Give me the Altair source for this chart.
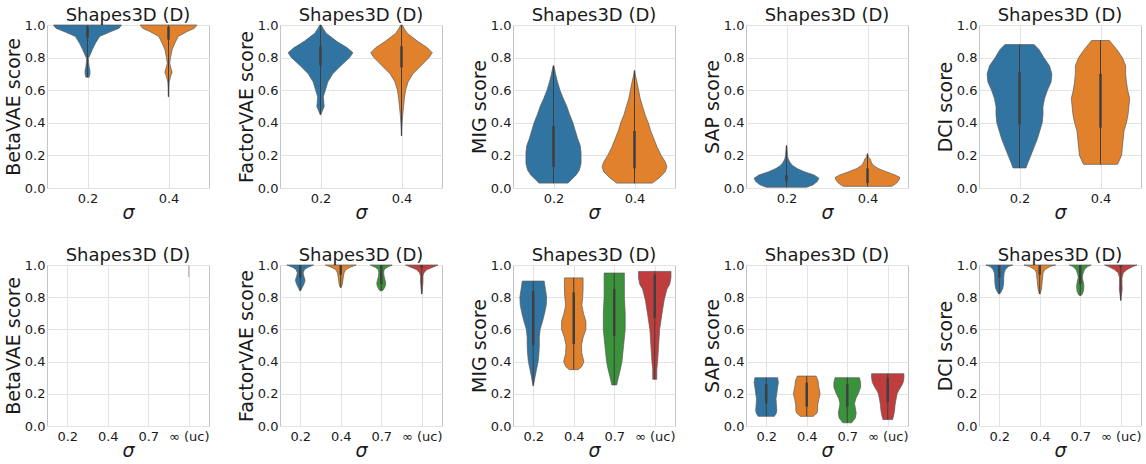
import altair as alt
import pandas as pd

METRICS = ["BetaVAE", "FactorVAE", "MIG", "SAP", "DCI"]
SIGMA_TOP = ["0.2", "0.4"]
SIGMA_BOTTOM = ["0.2", "0.4", "0.7", "∞ (uc)"]
PANEL_TITLE = "Shapes3D (D)"
COLORS = ["#3274a1", "#e1812c", "#3a923a", "#c03d3e"]
Y_TICKS = [0.0, 0.2, 0.4, 0.6, 0.8, 1.0]

# violin outlines: (score, half-width in category units), one list per sigma
BETAVAE_TOP = [
    [(0.68, 0.02), (0.70, 0.03), (0.72, 0.03), (0.745, 0.02), (0.765, 0.015), (0.795, 0.01),
     (0.815, 0.03), (0.85, 0.06), (0.89, 0.10), (0.93, 0.15), (0.96, 0.29), (0.98, 0.39), (1.0, 0.42)],
    [(0.56, 0.003), (0.60, 0.004), (0.65, 0.008), (0.69, 0.03), (0.71, 0.045), (0.735, 0.03),
     (0.765, 0.015), (0.80, 0.025), (0.85, 0.045), (0.89, 0.08), (0.93, 0.12), (0.96, 0.23),
     (0.98, 0.32), (1.0, 0.35)],
]
FACTORVAE_TOP = [
    [(0.45, 0.005), (0.47, 0.02), (0.50, 0.045), (0.53, 0.04), (0.56, 0.035), (0.60, 0.06),
     (0.65, 0.09), (0.70, 0.15), (0.75, 0.25), (0.80, 0.36), (0.83, 0.40), (0.86, 0.33),
     (0.90, 0.20), (0.95, 0.07), (0.98, 0.03), (1.0, 0.01)],
    [(0.32, 0.002), (0.36, 0.004), (0.40, 0.008), (0.45, 0.015), (0.50, 0.025), (0.55, 0.035),
     (0.60, 0.05), (0.65, 0.08), (0.70, 0.14), (0.75, 0.24), (0.80, 0.34), (0.83, 0.38),
     (0.86, 0.32), (0.90, 0.20), (0.95, 0.07), (0.98, 0.03), (1.0, 0.01)],
]
MIG_TOP = [
    [(0.03, 0.18), (0.05, 0.22), (0.08, 0.28), (0.11, 0.32), (0.15, 0.34), (0.22, 0.34),
     (0.26, 0.33), (0.30, 0.30), (0.35, 0.27), (0.40, 0.24), (0.45, 0.20), (0.50, 0.165),
     (0.55, 0.12), (0.60, 0.08), (0.65, 0.05), (0.70, 0.025), (0.75, 0.005)],
    [(0.03, 0.22), (0.06, 0.30), (0.10, 0.38), (0.13, 0.40), (0.16, 0.38), (0.20, 0.33),
     (0.25, 0.28), (0.30, 0.24), (0.35, 0.20), (0.40, 0.17), (0.45, 0.13), (0.50, 0.10),
     (0.55, 0.07), (0.60, 0.05), (0.65, 0.03), (0.69, 0.012), (0.72, 0.003)],
]
SAP_TOP = [
    [(0.005, 0.25), (0.02, 0.33), (0.04, 0.38), (0.06, 0.40), (0.08, 0.34), (0.10, 0.22),
     (0.12, 0.13), (0.14, 0.07), (0.16, 0.04), (0.18, 0.02), (0.20, 0.012), (0.23, 0.008),
     (0.26, 0.003)],
    [(0.01, 0.30), (0.03, 0.36), (0.05, 0.39), (0.065, 0.40), (0.08, 0.34), (0.10, 0.23),
     (0.12, 0.13), (0.14, 0.07), (0.16, 0.045), (0.17, 0.04), (0.18, 0.03), (0.19, 0.012),
     (0.21, 0.003)],
]
DCI_TOP = [
    [(0.123, 0.08), (0.15, 0.10), (0.20, 0.14), (0.25, 0.18), (0.30, 0.22), (0.35, 0.25),
     (0.40, 0.28), (0.45, 0.29), (0.50, 0.29), (0.55, 0.31), (0.60, 0.345), (0.65, 0.39),
     (0.70, 0.40), (0.75, 0.37), (0.80, 0.30), (0.85, 0.24), (0.88, 0.18)],
    [(0.145, 0.21), (0.20, 0.26), (0.25, 0.27), (0.30, 0.28), (0.35, 0.29), (0.40, 0.32),
     (0.45, 0.34), (0.50, 0.35), (0.55, 0.36), (0.60, 0.335), (0.65, 0.32), (0.70, 0.31),
     (0.75, 0.31), (0.80, 0.27), (0.85, 0.20), (0.905, 0.11)],
]
BETAVAE_BOTTOM = []
FACTORVAE_BOTTOM = [
    [(0.84, 0.01), (0.86, 0.05), (0.88, 0.09), (0.905, 0.12), (0.93, 0.09), (0.95, 0.07),
     (0.97, 0.10), (0.985, 0.18), (1.0, 0.33)],
    [(0.86, 0.01), (0.88, 0.04), (0.90, 0.05), (0.92, 0.06), (0.95, 0.08), (0.97, 0.12),
     (0.985, 0.22), (1.0, 0.38)],
    [(0.84, 0.03), (0.85, 0.06), (0.87, 0.10), (0.885, 0.11), (0.90, 0.10), (0.93, 0.07),
     (0.95, 0.06), (0.97, 0.07), (0.985, 0.14), (1.0, 0.27)],
    [(0.82, 0.005), (0.85, 0.015), (0.88, 0.025), (0.90, 0.03), (0.93, 0.03), (0.95, 0.05),
     (0.97, 0.12), (0.985, 0.26), (1.0, 0.40)],
]
MIG_BOTTOM = [
    [(0.25, 0.005), (0.30, 0.04), (0.35, 0.08), (0.40, 0.12), (0.45, 0.14), (0.50, 0.15),
     (0.55, 0.15), (0.60, 0.17), (0.65, 0.23), (0.70, 0.28), (0.75, 0.32), (0.80, 0.33),
     (0.85, 0.30), (0.90, 0.27)],
    [(0.35, 0.11), (0.37, 0.20), (0.40, 0.25), (0.45, 0.20), (0.50, 0.19), (0.55, 0.23),
     (0.60, 0.30), (0.65, 0.30), (0.70, 0.24), (0.75, 0.20), (0.80, 0.22), (0.85, 0.23),
     (0.92, 0.23)],
    [(0.255, 0.06), (0.30, 0.10), (0.35, 0.15), (0.40, 0.19), (0.45, 0.21), (0.50, 0.23),
     (0.60, 0.27), (0.70, 0.27), (0.80, 0.25), (0.90, 0.25), (0.95, 0.25)],
    [(0.29, 0.05), (0.35, 0.05), (0.40, 0.07), (0.50, 0.095), (0.60, 0.12), (0.70, 0.18),
     (0.78, 0.23), (0.85, 0.30), (0.88, 0.37), (0.92, 0.40), (0.96, 0.40)],
]
SAP_BOTTOM = [
    [(0.06, 0.20), (0.08, 0.25), (0.10, 0.26), (0.13, 0.25), (0.17, 0.24), (0.20, 0.26),
     (0.24, 0.28), (0.27, 0.30), (0.30, 0.28)],
    [(0.06, 0.16), (0.08, 0.25), (0.10, 0.27), (0.13, 0.27), (0.17, 0.30), (0.20, 0.33),
     (0.25, 0.29), (0.28, 0.28), (0.31, 0.23)],
    [(0.02, 0.11), (0.05, 0.20), (0.08, 0.22), (0.11, 0.20), (0.14, 0.18), (0.17, 0.21),
     (0.20, 0.27), (0.24, 0.33), (0.27, 0.33), (0.30, 0.30)],
    [(0.04, 0.12), (0.07, 0.15), (0.10, 0.17), (0.13, 0.18), (0.16, 0.20), (0.20, 0.23),
     (0.22, 0.27), (0.25, 0.34), (0.27, 0.38), (0.30, 0.40), (0.325, 0.40)],
]
DCI_BOTTOM = [
    [(0.82, 0.01), (0.83, 0.04), (0.85, 0.08), (0.87, 0.10), (0.90, 0.11), (0.92, 0.11),
     (0.95, 0.12), (0.97, 0.15), (0.99, 0.22), (1.0, 0.33)],
    [(0.82, 0.01), (0.83, 0.02), (0.85, 0.04), (0.87, 0.05), (0.90, 0.06), (0.92, 0.07),
     (0.95, 0.08), (0.97, 0.12), (0.99, 0.25), (1.0, 0.39)],
    [(0.81, 0.02), (0.82, 0.05), (0.84, 0.08), (0.87, 0.09), (0.90, 0.07), (0.92, 0.05),
     (0.94, 0.06), (0.97, 0.10), (0.99, 0.18), (1.0, 0.27)],
    [(0.78, 0.003), (0.80, 0.01), (0.82, 0.02), (0.85, 0.035), (0.88, 0.03), (0.92, 0.03),
     (0.95, 0.06), (0.97, 0.15), (0.99, 0.30), (1.0, 0.40)],
]

# inner box: interquartile range (q1, q3), one per sigma
BETAVAE_TOP_IQR = [(0.92, 0.99), (0.91, 0.99)]
FACTORVAE_TOP_IQR = [(0.75, 0.87), (0.74, 0.87)]
MIG_TOP_IQR = [(0.13, 0.38), (0.12, 0.35)]
SAP_TOP_IQR = [(0.04, 0.08), (0.03, 0.12)]
DCI_TOP_IQR = [(0.39, 0.71), (0.37, 0.70)]
BETAVAE_BOTTOM_IQR = []
FACTORVAE_BOTTOM_IQR = [(0.92, 1.0), (0.94, 1.0), (0.88, 1.0), (0.98, 1.0)]
MIG_BOTTOM_IQR = [(0.50, 0.84), (0.51, 0.83), (0.56, 0.85), (0.67, 0.94)]
SAP_BOTTOM_IQR = [(0.14, 0.26), (0.12, 0.27), (0.12, 0.26), (0.15, 0.30)]
DCI_BOTTOM_IQR = [(0.92, 1.0), (0.94, 1.0), (0.88, 1.0), (0.985, 1.0)]

# degenerate distribution drawn only as a line: (sigma index, low, high)
BETAVAE_BOTTOM_LINES = [(3, 0.925, 1.0)]

GRAY = "#3f3f3f"
EDGE = "#5a5a5a"
FRAME = "#c4c4c4"
GRID = "#e3e3e3"
FONT = "DejaVu Sans"
TEXT = "#1a1a1a"
PW = 162


def make_panel(metric, cats, violins, iqrs, height, lines=None):
    n = len(cats)
    xs = alt.Scale(domain=[-0.5, n - 0.5], nice=False, zero=False)
    ys = alt.Scale(domain=[0, 1], nice=False)
    label_expr = "[" + ",".join("'" + c + "'" for c in cats) + "][datum.value]"
    xa = alt.Axis(values=list(range(n)), labelExpr=label_expr, title="σ",
                  grid=True, ticks=False, domain=False, labelPadding=4,
                  labelFont=FONT, labelFontSize=13, labelColor=TEXT,
                  titleFont=FONT, titleFontSize=19, titleFontStyle="italic",
                  titleFontWeight="normal", titleColor=TEXT, titlePadding=-2,
                  labelAngle=0, gridColor=GRID)
    ya = alt.Axis(values=Y_TICKS, format=".1f", title=metric + " score",
                  grid=True, ticks=False, domain=False, labelPadding=2,
                  labelFont=FONT, labelFontSize=13, labelColor=TEXT,
                  titleFont=FONT, titleFontSize=19, titleFontWeight="normal",
                  titleColor=TEXT, minExtent=24, maxExtent=24, titlePadding=0,
                  gridColor=GRID)
    layers = []
    if violins:
        rows = []
        for ci, prof in enumerate(violins):
            for s, w in prof:
                rows.append({"ci": ci, "score": s, "w": w})
        vdf = pd.DataFrame(rows)
        area = (
            alt.Chart(vdf)
            .transform_calculate(lo="datum.ci - datum.w", hi="datum.ci + datum.w")
            .mark_area(orient="horizontal", stroke=EDGE, strokeWidth=0.7,
                       fillOpacity=1, strokeJoin="round")
            .encode(
                x=alt.X("lo:Q", scale=xs, axis=xa),
                x2="hi:Q",
                y=alt.Y("score:Q", scale=ys, axis=ya),
                color=alt.Color("ci:N", scale=alt.Scale(domain=[0, 1, 2, 3], range=COLORS),
                                legend=None),
            )
        )
        layers.append(area)
        brows = []
        for ci, (prof, (q1, q3)) in enumerate(zip(violins, iqrs)):
            ss = [p[0] for p in prof]
            brows.append({"ci": ci, "wlo": min(ss), "whi": max(ss), "q1": q1, "q3": q3})
        bdf = pd.DataFrame(brows)
        whisk = alt.Chart(bdf).mark_rule(color=GRAY, strokeWidth=1).encode(
            x=alt.X("ci:Q", scale=xs, axis=xa),
            y=alt.Y("wlo:Q", scale=ys, axis=ya), y2="whi:Q")
        box = alt.Chart(bdf).mark_rule(color=GRAY, strokeWidth=2.5).encode(
            x=alt.X("ci:Q", scale=xs, axis=xa),
            y=alt.Y("q1:Q", scale=ys, axis=ya), y2="q3:Q")
        layers += [whisk, box]
    if lines:
        ldf = pd.DataFrame([{"ci": c, "lo": a, "hi": b} for c, a, b in lines])
        ln = alt.Chart(ldf).mark_rule(color="#bdbdbd", strokeWidth=1.5).encode(
            x=alt.X("ci:Q", scale=xs, axis=xa),
            y=alt.Y("lo:Q", scale=ys, axis=ya), y2="hi:Q")
        layers.append(ln)
    return alt.layer(*layers).properties(width=PW, height=height, title=PANEL_TITLE)


top_data = [(BETAVAE_TOP, BETAVAE_TOP_IQR), (FACTORVAE_TOP, FACTORVAE_TOP_IQR),
            (MIG_TOP, MIG_TOP_IQR), (SAP_TOP, SAP_TOP_IQR), (DCI_TOP, DCI_TOP_IQR)]
bottom_data = [(BETAVAE_BOTTOM, BETAVAE_BOTTOM_IQR), (FACTORVAE_BOTTOM, FACTORVAE_BOTTOM_IQR),
               (MIG_BOTTOM, MIG_BOTTOM_IQR), (SAP_BOTTOM, SAP_BOTTOM_IQR),
               (DCI_BOTTOM, DCI_BOTTOM_IQR)]

top_panels = [make_panel(m, SIGMA_TOP, v, q, 163) for m, (v, q) in zip(METRICS, top_data)]
bottom_panels = [
    make_panel(m, SIGMA_BOTTOM, v, q, 161, BETAVAE_BOTTOM_LINES if m == "BetaVAE" and not v else None)
    for m, (v, q) in zip(METRICS, bottom_data)
]

chart = (
    alt.vconcat(
        alt.hconcat(*top_panels, spacing=26),
        alt.hconcat(*bottom_panels, spacing=26),
        spacing=23,
    )
    .properties(padding={"left": 3, "top": 6, "right": 0, "bottom": 0}, background="white")
    .configure_view(stroke=FRAME, strokeWidth=1)
    .configure_title(font=FONT, fontSize=18, fontWeight="normal", color=TEXT, offset=-6)
)

chart.save("out.html", embed_options={"renderer": "svg", "actions": False})
